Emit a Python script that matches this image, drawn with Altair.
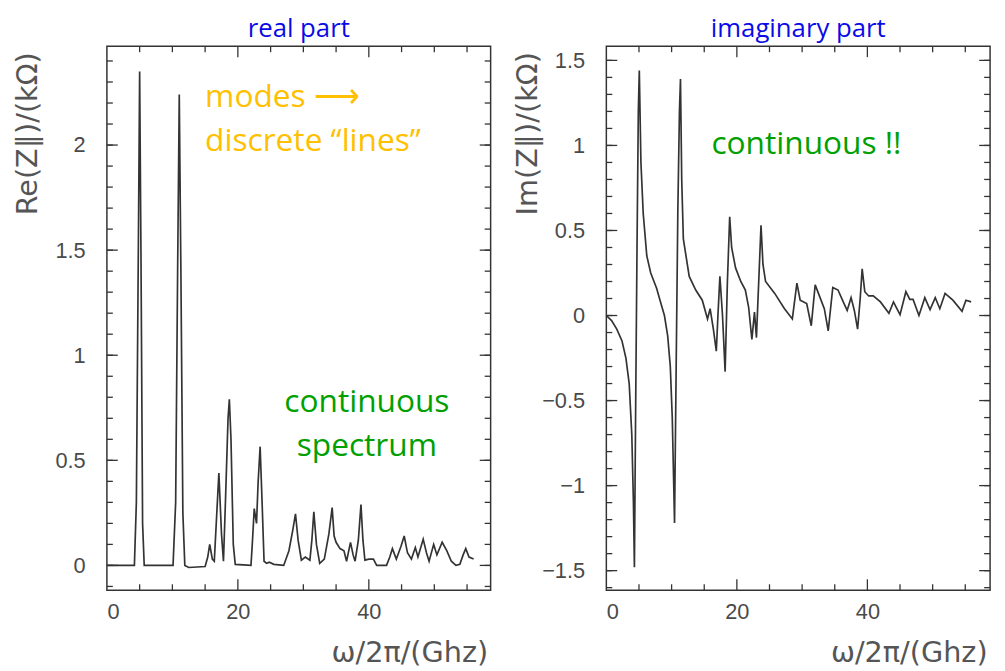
import altair as alt
import pandas as pd

# ---------------- data ----------------
re_x = [0, 4.2, 4.5, 4.8, 5.0, 5.2, 5.45, 5.7, 10.1, 10.5, 10.8, 11.05, 11.3, 11.6, 11.9,
        12.5, 15.0, 15.4, 15.7, 16.1, 16.4, 16.7, 17.1, 17.5, 17.8, 18.1, 18.5, 18.7, 18.95,
        19.3, 19.6, 22.0, 22.2, 22.5, 22.85, 23.1, 23.4, 23.7, 24.0, 24.4, 24.8, 25.5, 27.0,
        27.8, 28.4, 28.8, 29.2, 29.7, 30.3, 31.0, 31.3, 31.6, 32.0, 32.5, 33.2, 33.9, 34.4,
        34.7, 35.0, 35.6, 36.2, 36.6, 37.2, 37.6, 37.9, 38.4, 38.8, 39.1, 39.4, 40.0, 40.7,
        41.2, 42.7, 43.2, 43.6, 44.2, 44.9, 45.4, 45.9, 46.5, 47.1, 47.5, 48.3, 48.8, 49.2,
        49.9, 50.4, 51.2, 51.9, 52.6, 53.3, 53.9, 54.4, 54.8, 55.3, 56.0]
re_y = [0, 0.0, 0.3, 1.5, 2.35, 1.5, 0.2, 0.0, 0.0, 0.3, 1.4, 2.24, 1.4, 0.25, 0.0,
        -0.01, -0.005, 0.04, 0.10, 0.03, 0.02, 0.2, 0.44, 0.15, 0.02, 0.3, 0.7, 0.79, 0.6,
        0.1, 0.005, 0.0, 0.1, 0.27, 0.2, 0.4, 0.565, 0.3, 0.02, 0.01, 0.015, 0.005, 0.0,
        0.07, 0.17, 0.245, 0.12, 0.025, 0.04, 0.025, 0.12, 0.255, 0.1, 0.01, 0.03, 0.15, 0.275,
        0.14, 0.11, 0.08, 0.07, 0.02, 0.11, 0.05, 0.02, 0.12, 0.29, 0.12, 0.025, 0.03, 0.03,
        0.0, 0.0, 0.04, 0.08, 0.03, 0.09, 0.14, 0.06, 0.03, 0.085, 0.04, 0.125, 0.06, 0.02,
        0.10, 0.05, 0.11, 0.07, 0.02, 0.0, 0.005, 0.05, 0.08, 0.04, 0.03]

im_x = [0, 0.8, 1.6, 2.4, 3.0, 3.5, 3.9, 4.15, 4.3, 4.5, 4.7, 4.9, 5.05, 5.3, 5.65, 6.2,
        6.8, 7.7, 8.3, 8.9, 9.4, 9.8, 10.1, 10.3, 10.45, 10.7, 10.95, 11.2, 11.36, 11.55,
        11.8, 12.7, 13.7, 14.7, 15.5, 15.9, 16.4, 16.85, 17.1, 17.4, 17.8, 18.2, 18.55, 18.9,
        19.2, 19.8, 20.6, 21.3, 21.8, 22.3, 22.7, 23.0, 23.35, 23.7, 24.0, 24.4, 25.8, 27.3,
        28.5, 29.2, 29.7, 30.7, 31.4, 32.0, 32.5, 33.4, 34.0, 34.7, 35.5, 36.3, 36.9, 37.5,
        38.0, 38.5, 38.9, 39.2, 39.6, 40.2, 40.9, 42.0, 43.3, 44.0, 44.4, 45.0, 45.9, 46.5,
        47.0, 47.9, 48.8, 49.6, 50.4, 51.1, 51.9, 53.1, 54.5, 55.1, 55.9]
im_y = [0, -0.03, -0.08, -0.15, -0.25, -0.4, -0.7, -1.1, -1.48, -0.5, 0.4, 1.2, 1.44, 0.9,
        0.6, 0.35, 0.25, 0.16, 0.08, 0.0, -0.12, -0.3, -0.6, -0.95, -1.22, -0.3, 0.6, 1.2,
        1.39, 0.8, 0.45, 0.23, 0.15, 0.09, -0.02, 0.04, -0.08, -0.21, 0.0, 0.23, 0.0, -0.33,
        0.2, 0.58, 0.4, 0.28, 0.2, 0.15, 0.05, -0.14, 0.02, -0.13, 0.2, 0.53, 0.3, 0.2, 0.13,
        0.04, -0.02, 0.19, 0.09, 0.07, -0.06, 0.18, 0.13, 0.04, -0.09, 0.165, 0.15, 0.08,
        0.03, 0.105, 0.03, -0.08, 0.1, 0.275, 0.14, 0.115, 0.115, 0.08, 0.013, 0.08, 0.05,
        0.005, 0.14, 0.095, 0.095, 0.0, 0.105, 0.035, 0.105, 0.04, 0.13, 0.09, 0.025, 0.09,
        0.08]

# axis tick values
x_label_values = [0, 20, 40]
x_major_ticks = [20, 40]
x_minor_ticks = [5, 10, 15, 25, 30, 35, 45, 50, 55]
re_label_values = [0, 0.5, 1, 1.5, 2]
re_minor_ticks = [round(-0.1 + 0.1 * i, 1) for i in range(26)]
im_label_values = [-1.5, -1, -0.5, 0, 0.5, 1, 1.5]
im_minor_ticks = [round(-1.6 + 0.1 * i, 1) for i in range(32)]

# annotations (text, x, y in data units)
re_notes_orange = [("modes \u27f6", 15.0, 2.18), ("discrete \u201clines\u201d", 15.0, 1.973)]
re_notes_green = [("continuous", 39.7, 0.729), ("spectrum", 39.7, 0.522)]
im_notes_green = [("continuous !!", 16.1, 0.95)]

# ---------------- styling ----------------
H = 550
LINE = "#333333"
LABEL_FONT = "Liberation Sans"
TITLE_FONT = "DejaVu Sans"
NOTE_FONT = "Open Sans"
ORANGE = "#FFC000"
GREEN = "#00A000"
BLUE = "#0A0AE6"
MAJ, MIN = 11, 6


def make_axes(w, y_labels, y_title):
    common = dict(grid=False, domain=False, ticks=False,
                  labelFont=LABEL_FONT, labelFontSize=22, labelColor="#4a4a4a",
                  titleFont=TITLE_FONT, titleFontSize=29, titleColor="#555555",
                  titleFontWeight="normal")
    xa = alt.Axis(values=x_label_values, title="\u03c9/2\u03c0/(Ghz)", format="d",
                  labelPadding=12, titleX=w - 3, titleY=63,
                  titleAlign="right", titleBaseline="middle", **common)
    ya = alt.Axis(values=y_labels, title=y_title, labelPadding=22, format="~g",
                  titleX=-80, titleY=88, titleAngle=-90,
                  titleAlign="center", titleBaseline="middle", **common)
    return xa, ya


def tick_layers(xs, ys, xsc, ysc, xa, ya, w, h):
    layers = []
    for vals, ln in ((xs[0], MAJ), (xs[1], MIN)):
        df = pd.DataFrame({"x": vals})
        base = alt.Chart(df).mark_rule(color=LINE, strokeWidth=1.3)
        layers.append(base.encode(x=alt.X("x:Q", scale=xsc, axis=xa),
                                  y=alt.value(0), y2=alt.value(ln)))
        layers.append(base.encode(x=alt.X("x:Q", scale=xsc, axis=xa),
                                  y=alt.value(h), y2=alt.value(h - ln)))
    for vals, ln in ((ys[0], MAJ), (ys[1], MIN)):
        df = pd.DataFrame({"y": vals})
        base = alt.Chart(df).mark_rule(color=LINE, strokeWidth=1.3)
        layers.append(base.encode(y=alt.Y("y:Q", scale=ysc, axis=ya),
                                  x=alt.value(0), x2=alt.value(ln)))
        layers.append(base.encode(y=alt.Y("y:Q", scale=ysc, axis=ya),
                                  x=alt.value(w), x2=alt.value(w - ln)))
    return layers


def notes_layer(notes, color, align, xsc, ysc, xa, ya):
    df = pd.DataFrame(notes, columns=["t", "x", "y"])
    return alt.Chart(df).mark_text(
        font=NOTE_FONT, fontSize=32, color=color, align=align, baseline="alphabetic"
    ).encode(
        x=alt.X("x:Q", scale=xsc, axis=xa),
        y=alt.Y("y:Q", scale=ysc, axis=ya),
        text="t:N",
    )


def panel(xv, yv, x_dom, y_dom, y_labels, y_minor, y_title, title, w, notes_spec):
    xsc = alt.Scale(domain=x_dom, nice=False, zero=False)
    ysc = alt.Scale(domain=y_dom, nice=False, zero=False)
    xa, ya = make_axes(w, y_labels, y_title)
    df = pd.DataFrame({"x": xv, "y": yv})
    line = alt.Chart(df).mark_line(color=LINE, strokeWidth=1.7).encode(
        x=alt.X("x:Q", scale=xsc, axis=xa),
        y=alt.Y("y:Q", scale=ysc, axis=ya),
    )
    ticks = tick_layers((x_major_ticks, x_minor_ticks), (y_labels, y_minor),
                        xsc, ysc, xa, ya, w, H)
    notes = [notes_layer(n, c, a, xsc, ysc, xa, ya) for (n, c, a) in notes_spec]
    return alt.layer(line, *ticks, *notes).properties(
        width=w, height=H,
        view=alt.ViewBackground(stroke=LINE, strokeWidth=1.5),
        title=alt.TitleParams(title, color=BLUE, font=NOTE_FONT, fontSize=26,
                              fontWeight="normal", offset=4, anchor="middle"),
    )


left = panel(re_x, re_y, [0, 58.6], [-0.118, 2.47], re_label_values, re_minor_ticks,
             "Re(Z\u2225)/(k\u03a9)", "real part", 388,
             [(re_notes_orange, ORANGE, "left"), (re_notes_green, GREEN, "center")])
right = panel(im_x, im_y, [0, 58.8], [-1.615, 1.583], im_label_values, im_minor_ticks,
              "Im(Z\u2225)/(k\u03a9)", "imaginary part", 388,
              [(im_notes_green, GREEN, "left")])

chart = alt.hconcat(left, right, spacing=20).properties(
    padding={"left": 5, "top": 3, "right": 5, "bottom": 0}
).configure(
    background="white"
).configure_view(stroke=LINE, strokeWidth=1.5)

chart.save("out.html", embed_options={"renderer": "svg", "actions": False})
